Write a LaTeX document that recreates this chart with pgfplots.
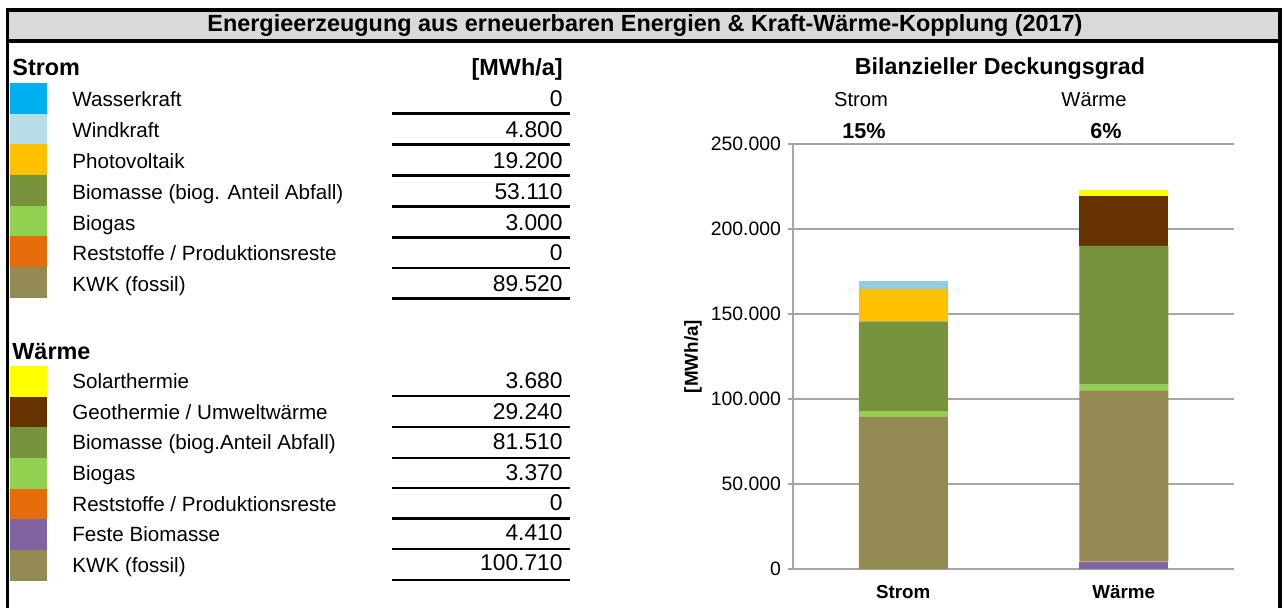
\documentclass[border=0pt]{standalone}
\usepackage{pgfplots}
\pgfplotsset{compat=1.18}
\usepackage{fontspec}
\setmainfont{Liberation Sans}
\definecolor{cWasser}{HTML}{00B0F0}
\definecolor{cWind}{HTML}{B7DEE8}
\definecolor{cWindBar}{HTML}{93CDDD}
\definecolor{cPV}{HTML}{FFC000}
\definecolor{cBiomasse}{HTML}{77933C}
\definecolor{cBiogas}{HTML}{92D050}
\definecolor{cRest}{HTML}{E46C0A}
\definecolor{cKWK}{HTML}{948A54}
\definecolor{cSolar}{HTML}{FFFF00}
\definecolor{cGeo}{HTML}{663300}
\definecolor{cFeste}{HTML}{8064A2}
\definecolor{cTitle}{HTML}{D9D9D9}
\definecolor{cGrid}{HTML}{A6A6A6}
\newcommand\rowfont{\fontsize{10.3}{12}\selectfont}
\newcommand\valfont{\fontsize{11.4}{13}\selectfont}
\newcommand\hdrfont{\bfseries\fontsize{11.7}{14}\selectfont}
\begin{document}
\begin{tikzpicture}
\begin{scope}[x=0.5pt,y=-0.5pt]
\useasboundingbox (0,0) rectangle (1284,608);
\fill[cTitle] (7.5,10) rectangle (1280,41);
\draw[line width=1.75pt] (7.5,608)--(7.5,10)--(1280,10)--(1280,608);
\draw[line width=1.75pt] (7.5,41)--(1280,41);
\node[font=\bfseries\fontsize{11.7}{14}\selectfont] at (645,26) {Energieerzeugung aus erneuerbaren Energien \& Kraft-Wärme-Kopplung (2017)};
% Strom
\node[anchor=base west,font=\hdrfont,inner sep=0pt] at (12,76) {Strom};
\node[anchor=base east,font=\hdrfont,inner sep=0pt] at (563,76) {[MWh/a]};
\foreach \c [count=\i from 0] in {cWasser,cWind,cPV,cBiomasse,cBiogas,cRest,cKWK}
  \fill[\c] (10,{83+30.7*\i}) rectangle (47,{83+30.7*(\i+1)});
\begin{scope}[every node/.style={font=\rowfont,inner sep=0pt}]
\node[anchor=base west] at (72,107) {Wasserkraft};
\node[anchor=base west] at (72,137.8) {Windkraft};
\node[anchor=base west] at (72,168.6) {Photovoltaik};
\node[anchor=base west] at (72,199.4) {Biomasse (biog. Anteil Abfall)};
\node[anchor=base west] at (72,230.2) {Biogas};
\node[anchor=base west] at (72,261) {Reststoffe / Produktionsreste};
\node[anchor=base west] at (72,291.8) {KWK (fossil)};
\end{scope}
\begin{scope}[every node/.style={font=\valfont,inner sep=0pt,anchor=base east}]
\node at (563,107) {0};
\node at (563,137.8) {4.800};
\node at (563,168.6) {19.200};
\node at (563,199.4) {53.110};
\node at (563,230.2) {3.000};
\node at (563,261) {0};
\node at (563,291.8) {89.520};
\end{scope}
\foreach \yy in {113.5,144.5,175.5,206.5,237.5,268,298.5}
  \draw[line width=1.1pt] (392,\yy)--(570,\yy);
% Waerme
\node[anchor=base west,font=\hdrfont,inner sep=0pt] at (12,360) {Wärme};
\foreach \c [count=\i from 0] in {cSolar,cGeo,cBiomasse,cBiogas,cRest,cFeste,cKWK}
  \fill[\c] (10,{366+30.7*\i}) rectangle (47,{366+30.7*(\i+1)});
\begin{scope}[every node/.style={font=\rowfont,inner sep=0pt}]
\node[anchor=base west] at (72,389) {Solarthermie};
\node[anchor=base west] at (72,419.5) {Geothermie / Umweltwärme};
\node[anchor=base west] at (72,450) {Biomasse (biog.Anteil Abfall)};
\node[anchor=base west] at (72,480.5) {Biogas};
\node[anchor=base west] at (72,511) {Reststoffe / Produktionsreste};
\node[anchor=base west] at (72,541.5) {Feste Biomasse};
\node[anchor=base west] at (72,572) {KWK (fossil)};
\end{scope}
\begin{scope}[every node/.style={font=\valfont,inner sep=0pt,anchor=base east}]
\node at (563,389) {3.680};
\node at (563,419.5) {29.240};
\node at (563,450) {81.510};
\node at (563,480.5) {3.370};
\node at (563,510) {0};
\node at (563,540.5) {4.410};
\node at (563,570) {100.710};
\end{scope}
\foreach \yy in {396,427,458,488,518.5,549,580}
  \draw[line width=1.1pt] (392,\yy)--(570,\yy);
% chart texts
\node[font=\bfseries\fontsize{11.6}{14}\selectfont] at (1000,69) {Bilanzieller Deckungsgrad};
\node[font=\fontsize{10.1}{12}\selectfont] at (861,100) {Strom};
\node[font=\fontsize{10.1}{12}\selectfont] at (1094,100) {Wärme};
\node[font=\bfseries\fontsize{10.8}{13}\selectfont] at (864,131) {15\%};
\node[font=\bfseries\fontsize{10.8}{13}\selectfont] at (1106,131) {6\%};
\coordinate (O) at (793,569);
\end{scope}
\begin{axis}[
  at={(O)}, anchor=south west, scale only axis,
  width=220.5pt, height=212.5pt,
  xmin=-0.5, xmax=1.5, ymin=0, ymax=250000,
  ybar stacked, bar width=44.5pt,
  xtick={0,1}, xticklabels={Strom,Wärme},
  ytick={0,50000,100000,150000,200000,250000},
  yticklabels={0,50.000,100.000,150.000,200.000,250.000},
  scaled y ticks=false,
  axis x line*=bottom, axis y line*=left,
  axis line style={cGrid, line width=0.75pt, -},
  ymajorgrids, major grid style={cGrid, line width=0.75pt},
  xtick style={draw=none},
  ytick style={cGrid, line width=0.75pt},
  major tick length=2.5pt, tick align=outside,
  yticklabel style={font=\fontsize{9.7}{11}\selectfont},
  xticklabel style={font=\bfseries\fontsize{9.4}{11}\selectfont, yshift=-2pt},
  ylabel={[MWh/a]},
  ylabel style={font=\bfseries\fontsize{9.4}{11}\selectfont, at={(axis description cs:-0.227,0.5)}, anchor=center},
]
\addplot[fill=cFeste, draw=none] coordinates {(0,0) (1,4410)};
\addplot[fill=cKWK, draw=none] coordinates {(0,89520) (1,100710)};
\addplot[fill=cBiogas, draw=none] coordinates {(0,3000) (1,3370)};
\addplot[fill=cBiomasse, draw=none] coordinates {(0,53110) (1,81510)};
\addplot[fill=cRest, draw=none] coordinates {(0,0) (1,0)};
\addplot[fill=cPV, draw=none] coordinates {(0,19200) (1,0)};
\addplot[fill=cGeo, draw=none] coordinates {(0,0) (1,29240)};
\addplot[fill=cWindBar, draw=none] coordinates {(0,4800) (1,0)};
\addplot[fill=cSolar, draw=none] coordinates {(0,0) (1,3680)};
\addplot[fill=cWasser, draw=none] coordinates {(0,0) (1,0)};
\end{axis}
\end{tikzpicture}
\end{document}
